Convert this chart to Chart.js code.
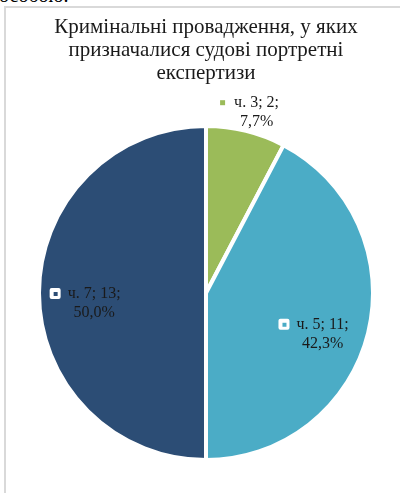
<!DOCTYPE html>
<html lang="uk">
<head>
<meta charset="UTF-8">
<title>Кримінальні провадження</title>
<script src="https://cdn.jsdelivr.net/npm/chart.js"></script>
<style>
  body { margin: 0; background: #fff; width: 400px; height: 493px; overflow: hidden; position: relative; font-family: 'Liberation Serif', serif; }
  .doc-text { position: absolute; left: -1px; top: -16px; font-size: 20px; color: #000; }
  .frame { position: absolute; left: 4px; top: 6px; width: 420px; height: 520px; border: 2px solid #d9d9d9; box-sizing: border-box; }
  canvas { position: absolute; left: 0; top: 0; }
</style>
</head>
<body>
<div class="doc-text">особою.</div>
<div class="frame"></div>
<canvas id="pie" width="400" height="493"></canvas>
<script>
// data
const parts = ['ч. 3', 'ч. 5', 'ч. 7'];
const counts = [2, 11, 13];
const shares = ['7,7%', '42,3%', '50,0%'];
const colors = ['#9bbb59', '#4bacc6', '#2c4d75'];

// label placement: fraction of radius along the slice middle, plus a nudge
const labelRadius = [1.115, 0.67, 0.67];
const labelDx = [6, 8, 0];
const labelDy = [0, 14, 10];

const labelPlugin = {
  id: 'sliceLabels',
  afterDatasetsDraw(chart) {
    const ctx = chart.ctx;
    const meta = chart.getDatasetMeta(0);
    ctx.save();
    ctx.font = '16px "Liberation Serif", serif';
    ctx.textBaseline = 'middle';
    ctx.textAlign = 'center';
    meta.data.forEach((arc, i) => {
      const mid = (arc.startAngle + arc.endAngle) / 2;
      const r = arc.outerRadius * labelRadius[i];
      const cx = arc.x + Math.cos(mid) * r + labelDx[i];
      const cy = arc.y + Math.sin(mid) * r + labelDy[i];
      const line1 = parts[i] + '; ' + counts[i] + ';';
      const line2 = shares[i];
      const y1 = cy - 9, y2 = cy + 10;
      const w1 = ctx.measureText(line1).width;
      ctx.fillStyle = '#1a1a1a';
      ctx.fillText(line1, cx, y1);
      ctx.fillText(line2, cx, y2);
      // legend key in front of first line
      const kx = cx - w1 / 2 - 17;
      if (labelRadius[i] > 1) {
        ctx.fillStyle = colors[i];
        ctx.fillRect(kx + 3, y1 - 3, 5, 5);
      } else {
        ctx.fillStyle = '#fff';
        ctx.beginPath();
        ctx.roundRect(kx - 1, y1 - 6, 11, 11, 2);
        ctx.fill();
        ctx.fillStyle = colors[i];
        ctx.fillRect(kx + 3, y1 - 2, 4, 4);
      }
    });
    ctx.restore();
  }
};

new Chart(document.getElementById('pie'), {
  type: 'pie',
  data: {
    labels: parts,
    datasets: [{
      data: counts,
      backgroundColor: colors,
      borderColor: '#fff',
      borderWidth: 4
    }]
  },
  options: {
    responsive: false,
    animation: false,
    layout: { padding: { left: 37, right: 25, top: 0, bottom: 31 } },
    plugins: {
      legend: { display: false },
      tooltip: { enabled: false },
      title: {
        display: true,
        text: ['Кримінальні провадження, у яких', 'призначалися судові портретні', 'експертизи'],
        color: '#1a1a1a',
        font: { family: '"Liberation Serif", serif', size: 21, weight: 'normal', lineHeight: 1.095 },
        padding: { top: 15.5, bottom: 39.5 }
      }
    }
  },
  plugins: [labelPlugin]
});
</script>
</body>
</html>
